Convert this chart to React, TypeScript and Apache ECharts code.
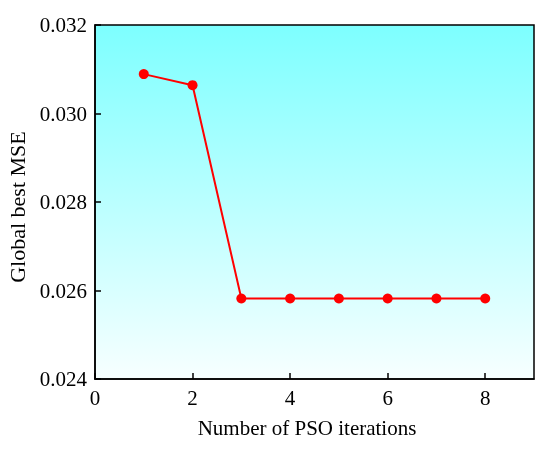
import React, { useEffect, useRef } from "react";
import * as echarts from "echarts";

const iterations = [1, 2, 3, 4, 5, 6, 7, 8];
const bestMSE = [0.03089, 0.03064, 0.02582, 0.02582, 0.02582, 0.02582, 0.02582, 0.02582];
const xTitle = "Number of PSO iterations";
const yTitle = "Global best MSE";

export default function App() {
  const ref = useRef<HTMLDivElement>(null);
  useEffect(() => {
    if (!ref.current) return;
    const chart = echarts.init(ref.current, undefined, { renderer: "svg" });
    const font = "'Liberation Serif', 'Times New Roman', serif";
    chart.setOption({
      animation: false,
      textStyle: { fontFamily: font },
      grid: {
        left: 95,
        top: 25,
        right: 16,
        bottom: 70,
        outerBoundsMode: "none",
        containLabel: false,
        show: true,
        borderColor: "#000",
        borderWidth: 1.5,
        backgroundColor: new echarts.graphic.LinearGradient(0, 0, 0, 1, [
          { offset: 0, color: "#7dffff" },
          { offset: 1, color: "#f7ffff" },
        ]),
      },
      xAxis: {
        type: "value",
        min: 0,
        max: 9,
        interval: 2,
        name: xTitle,
        nameLocation: "middle",
        nameGap: 38,
        nameTextStyle: { fontFamily: font, fontSize: 21, color: "#000", padding: [0, 15, 0, 0] },
        axisLine: { show: true, lineStyle: { color: "#000", width: 1.5 } },
        axisTick: { show: true, inside: true, length: 6, lineStyle: { color: "#000", width: 1.5 } },
        axisLabel: {
          fontFamily: font,
          fontSize: 21,
          color: "#000",
          margin: 8,
          showMaxLabel: false,
          formatter: (v: number) => (v === 9 ? "" : String(v)),
        },
        splitLine: { show: false },
      },
      yAxis: {
        type: "value",
        min: 0.024,
        max: 0.032,
        interval: 0.002,
        name: yTitle,
        nameLocation: "middle",
        nameGap: 59,
        nameTextStyle: { fontFamily: font, fontSize: 22, color: "#000", padding: [0, 10, 0, 0] },
        axisLine: { show: true, lineStyle: { color: "#000", width: 1.5 } },
        axisTick: { show: true, inside: true, length: 6, lineStyle: { color: "#000", width: 1.5 } },
        axisLabel: {
          fontFamily: font,
          fontSize: 21,
          color: "#000",
          margin: 8,
          formatter: (v: number) => v.toFixed(3),
        },
        splitLine: { show: false },
      },
      series: [
        {
          type: "line",
          data: iterations.map((x, i) => [x, bestMSE[i]]),
          symbol: "circle",
          symbolSize: 10,
          lineStyle: { color: "#ff0000", width: 2 },
          itemStyle: { color: "#ff0000" },
        },
      ],
    });
    return () => chart.dispose();
  }, []);
  return (
    <div
      ref={ref}
      style={{ position: "fixed", left: 0, top: 0, width: 550, height: 449 }}
    />
  );
}
